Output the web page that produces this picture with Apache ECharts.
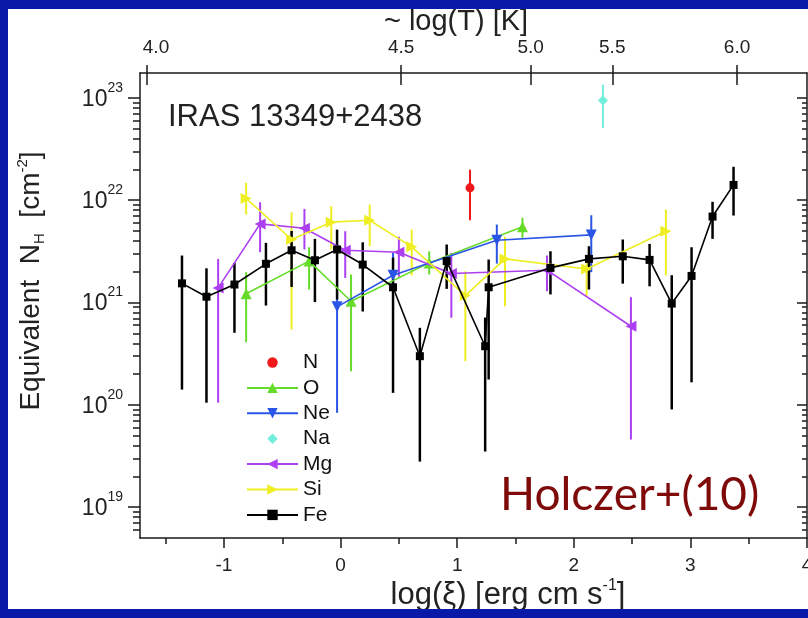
<!DOCTYPE html>
<html><head><meta charset="utf-8">
<script src="https://cdn.jsdelivr.net/npm/echarts@6/dist/echarts.min.js"></script>
<style>html,body{margin:0;padding:0;background:#fff;}#c{width:808px;height:618px;}</style>
</head><body><div id="c"></div>
<script>
// ---- data: log(xi) positions and equivalent N_H (cm^-2), with error-bar low/high ----
const n_xi = [1.11];
const n_nh = [1.32e22];
const n_lo = [6.37e21];
const n_hi = [1.99e22];

const o_xi = [-0.81, -0.27, 0.09, 0.76, 1.56];
const o_nh = [1.22e21, 2.54e21, 1.03e21, 2.44e21, 5.50e21];
const o_lo = [4.09e20, 1.34e21, 2.13e20, 1.88e21, 4.29e21];
const o_hi = [1.98e21, 3.47e21, 1.88e21, 3.17e21, 6.73e21];

const ne_xi = [-0.03, 0.45, 1.34, 2.15];
const ne_nh = [9.08e20, 1.85e21, 4.06e21, 4.58e21];
const ne_lo = [8.36e19, 1.34e21, 2.40e21, 1.98e21];
const ne_hi = [1.68e21, 3.06e21, 5.78e21, 7.13e21];

const na_xi = [2.25];
const na_nh = [9.42e22];
const na_lo = [5.09e22];
const na_hi = [1.35e23];

const mg_xi = [-1.05, -0.69, -0.31, 0.04, 0.50, 0.95, 1.77, 2.49];
const mg_nh = [1.39e21, 5.87e21, 5.32e21, 3.24e21, 3.10e21, 1.92e21, 2.07e21, 5.86e20];
const mg_lo = [1.05e20, 3.10e21, 3.30e21, 1.74e21, 1.79e21, 7.10e20, 1.29e21, 4.58e19];
const mg_hi = [2.67e21, 9.55e21, 8.22e21, 4.98e21, 4.39e21, 3.06e21, 2.88e21, 1.13e21];

const si_xi = [-0.81, -0.42, -0.08, 0.25, 0.61, 1.07, 1.41, 2.11, 2.79];
const si_nh = [1.04e22, 4.13e21, 6.10e21, 6.37e21, 3.50e21, 1.17e21, 2.67e21, 2.13e21, 4.98e21];
const si_lo = [7.24e21, 5.45e20, 3.30e21, 3.55e21, 1.84e21, 2.67e20, 9.20e20, 1.15e21, 1.84e21];
const si_hi = [1.48e22, 7.62e21, 8.73e21, 9.06e21, 5.16e21, 2.02e21, 4.39e21, 2.83e21, 8.11e21];

const fe_xi = [-1.36, -1.15, -0.91, -0.64, -0.42, -0.22, -0.03, 0.19, 0.45, 0.68, 0.91, 1.24, 1.27, 1.80, 2.13, 2.42, 2.65, 2.84, 3.01, 3.19, 3.37];
const fe_nh = [1.54e21, 1.14e21, 1.50e21, 2.39e21, 3.24e21, 2.59e21, 3.30e21, 2.35e21, 1.41e21, 2.99e20, 2.54e21, 3.74e20, 1.41e21, 2.18e21, 2.67e21, 2.83e21, 2.61e21, 9.77e20, 1.82e21, 6.92e21, 1.41e22];
const fe_lo = [1.41e20, 1.05e20, 5.06e20, 9.35e20, 1.42e21, 1.01e21, 1.07e21, 8.17e20, 1.31e20, 2.79e19, 1.36e21, 3.50e19, 1.77e20, 1.20e21, 1.34e21, 1.53e21, 1.44e21, 9.02e19, 1.66e20, 4.19e21, 7.08e21];
const fe_hi = [2.88e21, 2.16e21, 2.44e21, 3.83e21, 5.01e21, 4.19e21, 5.16e21, 3.88e21, 2.74e21, 5.66e20, 3.69e21, 7.13e20, 2.63e21, 3.17e21, 3.55e21, 4.13e21, 3.74e21, 1.85e21, 3.47e21, 9.64e21, 2.12e22];

// ---- axes ----
const xMin = -1.72, xMax = 4.0;
const xLabelValues = [-1, 0, 1, 2, 3, 4];
const xMinorValues = [-1.5, -0.5, 0.5, 1.5, 2.5, 3.5];
const topTickLabels = ['4.0', '4.5', '5.0', '5.5', '6.0'];
const topTickPos = [-1.66, 0.52, 1.63, 2.33, 3.40];
const yMin = 5e18, yMax = 1.75e23;
const yDecades = [19, 20, 21, 22, 23];

const L = Math.log10;
const yMinor = [];
for (let d = 18; d <= 22; d++) for (let k = 2; k <= 9; k++) {
  const v = L(k * Math.pow(10, d));
  if (v > L(yMin) && v < L(yMax)) yMinor.push(v);
}

const FONT = '"Liberation Sans", Arial, Helvetica, sans-serif';
const INK = '#1a1a1a';
const TXT = '#222';
const lineSt = { color: INK, width: 1.5 };

const elements = [
  { name: 'N',  xi: n_xi,  nh: n_nh,  lo: n_lo,  hi: n_hi,  color: '#f01818', symbol: 'circle',   rot: 0,   size: 9,  line: false, ew: 2 },
  { name: 'O',  xi: o_xi,  nh: o_nh,  lo: o_lo,  hi: o_hi,  color: '#66dc2a', symbol: 'triangle', rot: 0,   size: 11, line: true,  ew: 2 },
  { name: 'Ne', xi: ne_xi, nh: ne_nh, lo: ne_lo, hi: ne_hi, color: '#2a55e6', symbol: 'triangle', rot: 180, size: 11, line: true,  ew: 2 },
  { name: 'Na', xi: na_xi, nh: na_nh, lo: na_lo, hi: na_hi, color: '#72eedc', symbol: 'diamond',  rot: 0,   size: 10, line: false, ew: 2 },
  { name: 'Mg', xi: mg_xi, nh: mg_nh, lo: mg_lo, hi: mg_hi, color: '#ac40f0', symbol: 'triangle', rot: 90,  size: 11, line: true,  ew: 2 },
  { name: 'Si', xi: si_xi, nh: si_nh, lo: si_lo, hi: si_hi, color: '#eeee22', symbol: 'triangle', rot: -90, size: 11, line: true,  ew: 2 },
  { name: 'Fe', xi: fe_xi, nh: fe_nh, lo: fe_lo, hi: fe_hi, color: '#000000', symbol: 'rect',     rot: 0,   size: 8,  line: true,  ew: 2.5 }
];

const series = [];
elements.forEach(function (e, idx) {
  series.push({
    type: 'custom', name: e.name + ' err', silent: true, z: 2 + idx * 0.01,
    xAxisIndex: 0, yAxisIndex: 0,
    encode: { x: 0, y: [1, 2] },
    data: e.xi.map(function (x, i) { return [x, L(e.lo[i]), L(e.hi[i])]; }),
    renderItem: function (params, api) {
      const p1 = api.coord([api.value(0), api.value(1)]);
      const p2 = api.coord([api.value(0), api.value(2)]);
      return { type: 'line', shape: { x1: p1[0], y1: p1[1], x2: p2[0], y2: p2[1] },
               style: { stroke: e.color, lineWidth: e.ew } };
    }
  });
  // every element is a line series; single-point elements have no segment to draw
  series.push({
    type: 'line', name: e.name, z: 3 + idx * 0.01,
    xAxisIndex: 0, yAxisIndex: 0,
    data: e.xi.map(function (x, i) { return [x, L(e.nh[i])]; }),
    symbol: e.symbol, symbolRotate: e.rot, symbolSize: e.size,
    showSymbol: true, showAllSymbol: true,
    itemStyle: { color: e.color },
    lineStyle: { color: e.color, width: 1.6 },
    emphasis: { disabled: true }
  });
});

const legendData = elements.map(function (e) {
  return e.line ? { name: e.name } : { name: e.name, lineStyle: { opacity: 0 } };
});

const chart = echarts.init(document.getElementById('c'), null, { renderer: 'canvas' });
chart.setOption({
  animation: false,
  backgroundColor: '#ffffff',
  grid: { left: 140, right: 1, top: 73, bottom: 80, containLabel: false, outerBoundsMode: 'none' },
  legend: {
    orient: 'vertical', left: 241, top: 347,
    itemWidth: 51, itemHeight: 13, itemGap: 4.4,
    selectedMode: false,
    data: legendData,
    textStyle: { fontSize: 21, color: '#111', fontFamily: FONT }
  },
  xAxis: [
    { type: 'value', position: 'bottom', min: xMin, max: xMax,
      axisLine: { show: true, onZero: false, lineStyle: lineSt },
      axisTick: { show: true, inside: false, length: 10, customValues: xLabelValues, lineStyle: lineSt },
      axisLabel: { customValues: xLabelValues, fontSize: 19, color: TXT, fontFamily: FONT, margin: 18,
                   formatter: function (v) { return String(v); } },
      splitLine: { show: false } },
    { type: 'value', position: 'bottom', min: xMin, max: xMax,
      axisLine: { show: false, onZero: false },
      axisTick: { show: true, inside: false, length: 6, customValues: xMinorValues, lineStyle: lineSt },
      axisLabel: { show: false }, splitLine: { show: false } },
    { type: 'value', position: 'top', min: xMin, max: xMax,
      axisLine: { show: true, onZero: false, lineStyle: lineSt },
      axisTick: { show: true, inside: false, length: 8, customValues: topTickPos, lineStyle: lineSt },
      axisLabel: { customValues: topTickPos, fontSize: 19, color: TXT, fontFamily: FONT, margin: 16,
        formatter: function (v) {
          let best = 0;
          topTickPos.forEach(function (p, i) { if (Math.abs(p - v) < Math.abs(topTickPos[best] - v)) best = i; });
          return best === 0 ? '{f|' + topTickLabels[best] + '}' : topTickLabels[best];
        },
        rich: { f: { fontSize: 19, color: TXT, fontFamily: FONT, padding: [0, 0, 0, 18] } } },
      splitLine: { show: false } },
    { type: 'value', position: 'top', min: xMin, max: xMax,
      axisLine: { show: false, onZero: false },
      axisTick: { show: true, inside: true, length: 12, customValues: topTickPos, lineStyle: lineSt },
      axisLabel: { show: false }, splitLine: { show: false } }
  ],
  yAxis: [
    { type: 'value', position: 'left', min: L(yMin), max: L(yMax),
      axisLine: { show: true, onZero: false, lineStyle: lineSt },
      axisTick: { show: true, inside: false, length: 12, customValues: yDecades, lineStyle: lineSt },
      axisLabel: { customValues: yDecades, margin: 17, padding: [0, 0, 4, 0],
        formatter: function (v) { return '{b|10}{s|' + Math.round(v) + '}'; },
        rich: {
          b: { fontSize: 23, color: TXT, fontFamily: FONT, lineHeight: 30, verticalAlign: 'bottom' },
          s: { fontSize: 14, color: TXT, fontFamily: FONT, lineHeight: 14, verticalAlign: 'top' }
        } },
      splitLine: { show: false } },
    { type: 'value', position: 'left', min: L(yMin), max: L(yMax),
      axisLine: { show: false, onZero: false },
      axisTick: { show: true, inside: false, length: 7, customValues: yMinor, lineStyle: lineSt },
      axisLabel: { show: false }, splitLine: { show: false } },
    { type: 'value', position: 'right', min: L(yMin), max: L(yMax),
      axisLine: { show: true, onZero: false, lineStyle: lineSt },
      axisTick: { show: true, inside: true, length: 10, customValues: yDecades, lineStyle: lineSt },
      axisLabel: { show: false }, splitLine: { show: false } },
    { type: 'value', position: 'right', min: L(yMin), max: L(yMax),
      axisLine: { show: false, onZero: false },
      axisTick: { show: true, inside: true, length: 5, customValues: yMinor, lineStyle: lineSt },
      axisLabel: { show: false }, splitLine: { show: false } }
  ],
  graphic: [
    { type: 'text', x: 168, y: 117, z: 50,
      style: { text: 'IRAS 13349+2438', fontSize: 31, fontFamily: FONT, fill: TXT, align: 'left', verticalAlign: 'middle' } },
    { type: 'text', x: 500, y: 495, z: 50,
      style: { text: 'Holczer+(10)', fontSize: 46, fontFamily: 'Lato, "Noto Sans", sans-serif', fill: '#7f0a0a', align: 'left', verticalAlign: 'middle' } },
    { type: 'text', x: 456, y: 22, z: 50,
      style: { text: '~ log(T) [K]', fontSize: 29, fontFamily: FONT, fill: TXT, align: 'center', verticalAlign: 'middle' } },
    { type: 'text', x: 508, y: 595, z: 50,
      style: { text: 'log(ξ) [erg cm s{s|-1}]', fontSize: 31, lineHeight: 34, fontFamily: FONT, fill: TXT, align: 'center', verticalAlign: 'middle',
               rich: { s: { fontSize: 16, fontFamily: FONT, fill: TXT, verticalAlign: 'top', lineHeight: 16 } } } },
    { type: 'text', x: 31, y: 281, z: 50, rotation: Math.PI / 2,
      style: { text: 'Equivalent  N{sub|H}  [cm{sup|-2}]', fontSize: 28, lineHeight: 32, fontFamily: FONT, fill: TXT, align: 'center', verticalAlign: 'middle',
               rich: { sub: { fontSize: 15, fontFamily: FONT, fill: TXT, verticalAlign: 'bottom', lineHeight: 15 },
                       sup: { fontSize: 15, fontFamily: FONT, fill: TXT, verticalAlign: 'top', lineHeight: 15 } } } },
    { type: 'rect', z: 100, shape: { x: 0, y: 0, width: 8, height: 618 }, style: { fill: '#0a1aa8' } },
    { type: 'rect', z: 100, shape: { x: 0, y: 0, width: 808, height: 9 }, style: { fill: '#0a1aa8' } },
    { type: 'rect', z: 100, shape: { x: 0, y: 609, width: 808, height: 9 }, style: { fill: '#0a1aa8' } }
  ],
  series: series
});
</script>
</body></html>
